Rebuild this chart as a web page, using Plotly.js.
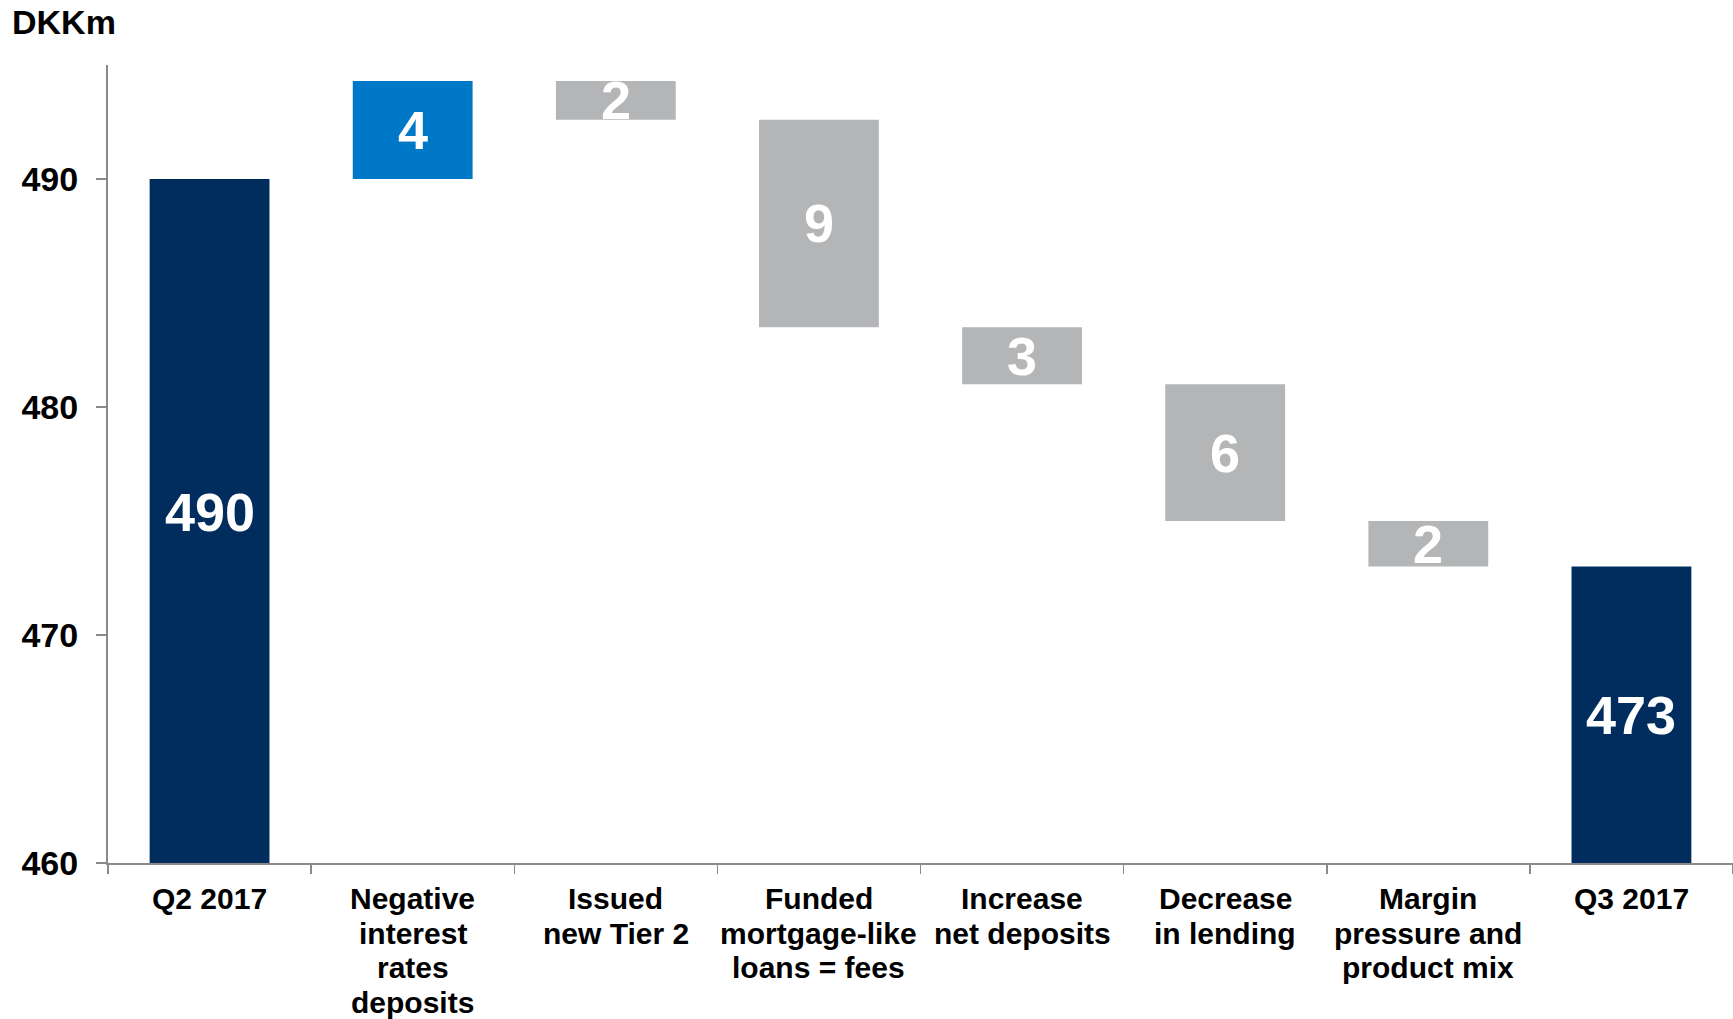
<!DOCTYPE html>
<html>
<head>
<meta charset="utf-8">
<script src="https://cdn.plot.ly/plotly-3.0.1.min.js"></script>
<style>
  html, body { margin: 0; padding: 0; background: #ffffff; }
  #chart { width: 1733px; height: 1019px; }
</style>
</head>
<body>
<div id="chart"></div>
<script>
// ---- Data ----
const categories = ["Q2 2017", "Negative interest rates deposits", "Issued new Tier 2",
  "Funded mortgage-like loans = fees", "Increase net deposits", "Decrease in lending",
  "Margin pressure and product mix", "Q3 2017"];
const categoryLines = [
  ["Q2 2017"],
  ["Negative", "interest", "rates", "deposits"],
  ["Issued", "new Tier 2"],
  ["Funded", "mortgage-like", "loans = fees"],
  ["Increase", "net deposits"],
  ["Decrease", "in lending"],
  ["Margin", "pressure and", "product mix"],
  ["Q3 2017"]
];
const startValue = 490;
const changes = [4.3, -1.7, -9.1, -2.5, -6.0, -2.0];
const endValue = 473;
const barLabels = ["490", "4", "2", "9", "3", "6", "2", "473"];
const yTicks = [460, 470, 480, 490];
const yRange = [460, 495];
const unitLabel = "DKKm";

// ---- Build waterfall geometry ----
const navy = "#002D5E", blue = "#0078C8", grey = "#B4B5B7";
const bases = [], heights = [], colors = [], mids = [];
bases.push(yRange[0]); heights.push(startValue - yRange[0]); colors.push(navy);
mids.push((yRange[0] + startValue) / 2);
let running = startValue;
changes.forEach(d => {
  const lo = Math.min(running, running + d);
  bases.push(lo); heights.push(Math.abs(d));
  colors.push(d >= 0 ? blue : grey);
  mids.push(lo + Math.abs(d) / 2);
  running += d;
});
bases.push(yRange[0]); heights.push(endValue - yRange[0]); colors.push(navy);
mids.push((yRange[0] + endValue) / 2);

const FONT = "Liberation Sans, Arial, Helvetica, sans-serif";

const trace = {
  type: "bar",
  x: categories,
  y: heights,
  base: bases,
  width: 0.59,
  marker: { color: colors, line: { width: 0 } },
  hoverinfo: "skip",
  cliponaxis: true
};

const annotations = [];
// bar value labels
categories.forEach((c, i) => {
  annotations.push({
    x: c, y: mids[i], xref: "x", yref: "y",
    text: barLabels[i], showarrow: false,
    xanchor: "center", yanchor: "middle",
    yshift: i === 0 ? 9 : 0,
    font: { family: FONT, size: 54, color: "#ffffff", weight: "bold" }
  });
});
// category labels, one annotation per line
categories.forEach((c, i) => {
  categoryLines[i].forEach((line, j) => {
    annotations.push({
      x: c, y: 0, xref: "x", yref: "paper",
      text: line, showarrow: false,
      xanchor: "center", yanchor: "top",
      yshift: -17 - j * 34.6,
      font: { family: FONT, size: 30, color: "#000000", weight: "bold" }
    });
  });
});
// unit label
annotations.push({
  x: (10 - 108) / 1625, y: (863 - 22) / 798, xref: "paper", yref: "paper",
  text: unitLabel, showarrow: false, xanchor: "left", yanchor: "middle",
  font: { family: FONT, size: 34, color: "#000000", weight: "bold" }
});

const layout = {
  width: 1733, height: 1019,
  margin: { l: 108, r: 0, t: 65, b: 156, pad: 0 },
  paper_bgcolor: "#ffffff", plot_bgcolor: "#ffffff",
  showlegend: false,
  bargap: 0.41,
  xaxis: {
    type: "category",
    categoryorder: "array", categoryarray: categories,
    showgrid: false, zeroline: false,
    showline: true, linecolor: "#8A8A8A", linewidth: 2,
    ticks: "outside", tickson: "boundaries", ticklen: 9, tickwidth: 1.5, tickcolor: "#8A8A8A",
    showticklabels: false,
    fixedrange: true
  },
  yaxis: {
    range: yRange,
    tickvals: yTicks, ticktext: yTicks.map(String),
    showgrid: false, zeroline: false,
    showline: true, linecolor: "#8A8A8A", linewidth: 2,
    ticks: "outside", ticklen: 10, tickwidth: 1.5, tickcolor: "#8A8A8A",
    ticklabelstandoff: 11,
    tickfont: { family: FONT, size: 34, color: "#000000", weight: "bold" },
    fixedrange: true
  },
  annotations: annotations
};

Plotly.newPlot("chart", [trace], layout, { displayModeBar: false, staticPlot: true });
</script>
</body>
</html>
